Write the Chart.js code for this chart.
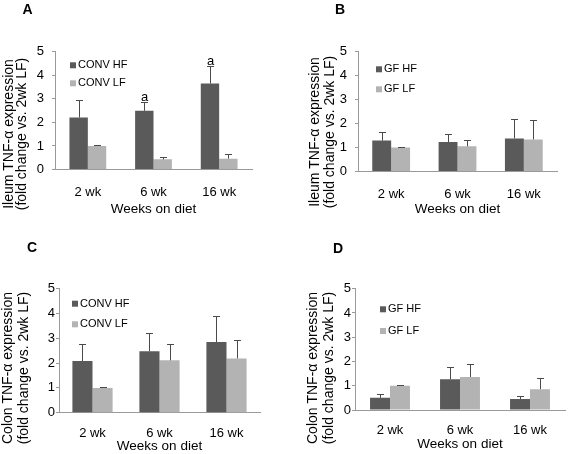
<!DOCTYPE html>
<html>
<head>
<meta charset="utf-8">
<script src="https://cdn.jsdelivr.net/npm/chart.js@4.4.1/dist/chart.umd.min.js"></script>
<style>
  html, body { margin: 0; padding: 0; background: #fff; }
  #wrap { position: relative; width: 568px; height: 454px; overflow: hidden; }
  #wrap canvas { position: absolute; width: 284px; height: 227px; }
</style>
</head>
<body>
<div id="wrap">
  <canvas id="panel-a" width="284" height="227" style="left:0;top:0"></canvas>
  <canvas id="panel-b" width="284" height="227" style="left:284px;top:0"></canvas>
  <canvas id="panel-c" width="284" height="227" style="left:0;top:227px"></canvas>
  <canvas id="panel-d" width="284" height="227" style="left:284px;top:227px"></canvas>
</div>
<script>
(function () {
  "use strict";

  var weeks = ["2 wk", "6 wk", "16 wk"];
  var yTicks = [0, 1, 2, 3, 4, 5];

  // A: ileum, conventional mice
  var ileumConvHF = [2.21, 2.49, 3.65];
  var ileumConvHFErr = [0.74, 0.39, 0.74];
  var ileumConvLF = [1.0, 0.43, 0.46];
  var ileumConvLFErr = [0.02, 0.12, 0.21];
  var ileumConvSig = ["", "a", "a"];

  // B: ileum, germ-free mice
  var ileumGfHF = [1.29, 1.23, 1.38];
  var ileumGfHFErr = [0.35, 0.32, 0.83];
  var ileumGfLF = [1.0, 1.05, 1.34];
  var ileumGfLFErr = [0.01, 0.27, 0.81];

  // C: colon, conventional mice
  var colonConvHF = [2.08, 2.48, 2.85];
  var colonConvHFErr = [0.68, 0.74, 1.03];
  var colonConvLF = [1.0, 2.11, 2.19];
  var colonConvLFErr = [0.02, 0.65, 0.76];

  // D: colon, germ-free mice
  var colonGfHF = [0.5, 1.27, 0.45];
  var colonGfHFErr = [0.16, 0.51, 0.14];
  var colonGfLF = [1.0, 1.36, 0.86];
  var colonGfLFErr = [0.01, 0.54, 0.45];

  var FONT = "'Liberation Sans', Arial, sans-serif";
  var DARK = "#5a5a5a";
  var LIGHT = "#b3b3b3";
  var AXIS = "#9a9a9a";
  var ERR = "#4a4a4a";
  var W = 284;
  var H = 227;

  var errorBars = {
    id: "errorBars",
    afterDatasetsDraw: function (chart) {
      var ctx = chart.ctx;
      var y = chart.scales.y;
      ctx.save();
      ctx.strokeStyle = ERR;
      ctx.lineWidth = 1;
      chart.data.datasets.forEach(function (ds, i) {
        var meta = chart.getDatasetMeta(i);
        meta.data.forEach(function (bar, j) {
          var top = y.getPixelForValue(ds.data[j] + ds.errUp[j]);
          var x = Math.round(bar.x) + 0.5;
          var yt = Math.round(top) + 0.5;
          ctx.beginPath();
          ctx.moveTo(x, bar.y);
          ctx.lineTo(x, yt);
          ctx.moveTo(x - 3.5, yt);
          ctx.lineTo(x + 3.5, yt);
          ctx.stroke();
          if (ds.sig && ds.sig[j]) {
            ctx.fillStyle = "#000";
            ctx.font = "13px " + FONT;
            ctx.textAlign = "center";
            ctx.textBaseline = "bottom";
            ctx.fillText(ds.sig[j], x, yt + 1);
          }
        });
      });
      ctx.restore();
    },
  };

  var decorations = {
    id: "decorations",
    afterDraw: function (chart) {
      var g = chart.options.plugins.decorations;
      var ctx = chart.ctx;
      var area = chart.chartArea;
      ctx.save();
      // panel letter
      ctx.fillStyle = "#000";
      ctx.font = "bold 14px " + FONT;
      ctx.textAlign = "center";
      ctx.textBaseline = "middle";
      ctx.fillText(g.letter, g.letterX, g.letterY);
      // legend inside plot area
      ctx.font = "11px " + FONT;
      ctx.textAlign = "left";
      chart.data.datasets.forEach(function (ds, i) {
        var sx = area.left + g.legX;
        var sy = area.top + g.legY + i * g.legGap;
        ctx.fillStyle = ds.backgroundColor;
        ctx.fillRect(sx, sy - 3, 6, 6);
        ctx.fillStyle = "#000";
        ctx.fillText(ds.label, sx + 8, sy);
      });
      // two-line rotated y title
      ctx.font = g.titleSize + "px " + FONT;
      ctx.textAlign = "center";
      g.yTitle.forEach(function (line, k) {
        ctx.save();
        ctx.translate(g.titleX[k], g.titleY);
        ctx.rotate(-Math.PI / 2);
        ctx.fillText(line, 0, 0);
        ctx.restore();
      });
      ctx.restore();
    },
  };

  function makePanel(id, g, hf, hfErr, lf, lfErr, names, sig) {
    var canvas = document.getElementById(id);
    new Chart(canvas, {
      type: "bar",
      data: {
        labels: weeks,
        datasets: [
          {
            label: names[0],
            data: hf,
            errUp: hfErr,
            sig: sig,
            backgroundColor: DARK,
            borderWidth: 0,
            categoryPercentage: g.cat,
            barPercentage: 1.0,
          },
          {
            label: names[1],
            data: lf,
            errUp: lfErr,
            backgroundColor: LIGHT,
            borderWidth: 0,
            categoryPercentage: g.cat,
            barPercentage: 1.0,
          },
        ],
      },
      options: {
        responsive: false,
        animation: false,
        devicePixelRatio: 1,
        layout: { padding: { left: 0, top: g.top, right: W - g.right, bottom: 0 } },
        plugins: {
          legend: { display: false },
          tooltip: { enabled: false },
          decorations: g,
        },
        scales: {
          x: {
            grid: { display: true, drawOnChartArea: false, drawTicks: false, color: AXIS },
            border: { display: true, color: AXIS },
            ticks: { color: "#000", font: { family: FONT, size: 13 }, padding: g.xTickPad },
            title: {
              display: true,
              text: "Weeks on diet",
              color: "#000",
              font: { family: FONT, size: 13.5 },
              padding: { top: 0, bottom: g.xTitlePad },
            },
            afterFit: function (s) {
              s.height = H - g.bottom;
            },
          },
          y: {
            min: yTicks[0],
            max: yTicks[yTicks.length - 1],
            afterBuildTicks: function (s) {
              s.ticks = yTicks.map(function (v) {
                return { value: v };
              });
            },
            grid: { display: true, drawOnChartArea: false, drawTicks: true, tickLength: 3, color: AXIS },
            border: { display: true, color: AXIS },
            ticks: { color: "#000", font: { family: FONT, size: 13 }, padding: g.yTickPad },
            afterFit: function (s) {
              s.width = g.left;
            },
          },
        },
      },
      plugins: [errorBars, decorations],
    });
  }

  var ileumTitle = ["Ileum TNF-\u03b1 expression", "(fold change vs. 2wk LF)"];
  var colonTitle = ["Colon TNF-\u03b1 expression", "(fold change vs. 2wk LF)"];

  makePanel("panel-a", {
    left: 55, right: 252, top: 51.7, bottom: 169.5, cat: 0.56,
    yTickPad: 8, xTickPad: 14.7, xTitlePad: 9.9,
    legX: 15, legY: 13.6, legGap: 18,
    yTitle: ileumTitle, titleSize: 14, titleX: [9, 22], titleY: 134,
    letter: "A", letterX: 27.5, letterY: 10.5,
  }, ileumConvHF, ileumConvHFErr, ileumConvLF, ileumConvLFErr, ["CONV HF", "CONV LF"], ileumConvSig);

  makePanel("panel-b", {
    left: 74, right: 273, top: 51.7, bottom: 171.5, cat: 0.57,
    yTickPad: 8, xTickPad: 14.7, xTitlePad: 9.9,
    legX: 18, legY: 17.6, legGap: 20,
    yTitle: ileumTitle, titleSize: 14, titleX: [31, 46], titleY: 132,
    letter: "B", letterX: 56, letterY: 10.5,
  }, ileumGfHF, ileumGfHFErr, ileumGfLF, ileumGfLFErr, ["GF HF", "GF LF"], null);

  makePanel("panel-c", {
    left: 59, right: 260, top: 61.7, bottom: 185.7, cat: 0.6,
    yTickPad: 1, xTickPad: 13.2, xTitlePad: 0,
    legX: 13, legY: 15, legGap: 20.6,
    yTitle: colonTitle, titleSize: 14, titleX: [8, 24], titleY: 141,
    letter: "C", letterX: 32, letterY: 21,
  }, colonConvHF, colonConvHFErr, colonConvLF, colonConvLFErr, ["CONV HF", "CONV LF"], null);

  makePanel("panel-d", {
    left: 71, right: 281, top: 61.7, bottom: 183, cat: 0.57,
    yTickPad: 1, xTickPad: 12.2, xTitlePad: 1.4,
    legX: 25, legY: 20.6, legGap: 21.7,
    yTitle: colonTitle, titleSize: 14, titleX: [29, 45], titleY: 141,
    letter: "D", letterX: 54, letterY: 22,
  }, colonGfHF, colonGfHFErr, colonGfLF, colonGfLFErr, ["GF HF", "GF LF"], null);
})();
</script>
</body>
</html>
